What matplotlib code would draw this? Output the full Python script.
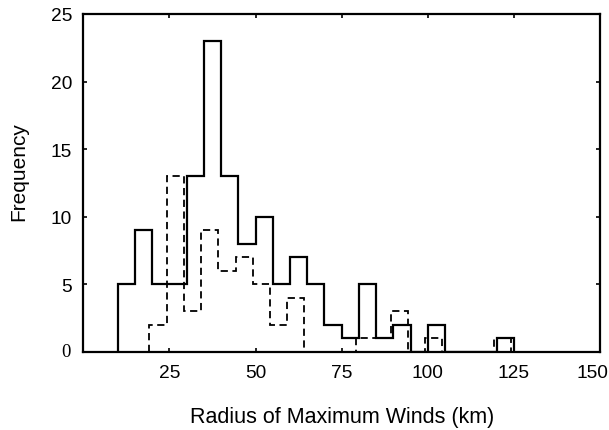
import numpy as np
import matplotlib
matplotlib.use("Agg")
import matplotlib.pyplot as plt
from matplotlib.transforms import ScaledTranslation

# Histogram data (bin width 5 km)
solid_start = 10
solid_counts = [5, 9, 5, 5, 13, 23, 13, 8, 10, 5, 7, 5, 2, 1, 5, 1, 2, 0, 2, 0, 0, 0, 1]
dashed_start = 20
dashed_counts = [2, 13, 3, 9, 6, 7, 5, 2, 4, 0, 0, 0, 1, 1, 3, 0, 1, 0, 0, 0, 1]
bin_width = 5
x_ticks = [25, 50, 75, 100, 125, 150]
y_ticks = [5, 10, 15, 20, 25]

plt.rcParams['font.family'] = ['Liberation Sans', 'DejaVu Sans']

fig = plt.figure(figsize=(6.09, 4.31), dpi=100)
ax = fig.add_axes([0.1368, 0.1817, 0.8484, 0.7835])

solid_edges = solid_start + bin_width * np.arange(len(solid_counts) + 1)
dashed_edges = dashed_start + bin_width * np.arange(len(dashed_counts) + 1) - 0.8

ax.stairs(solid_counts, solid_edges, color='black', linewidth=1.6, zorder=2)
ax.stairs(dashed_counts, dashed_edges, color='black', linewidth=1.3,
          linestyle=(0, (4, 2.5)), zorder=2)

ax.set_xlim(0, 150)
ax.set_ylim(0, 25)
ax.set_xticks(x_ticks)
ax.set_yticks(y_ticks)
ax.tick_params(direction='in', length=3, width=1.2, labelsize=13.8,
               top=True, right=True)
ax.tick_params(axis='x', pad=9)
ax.tick_params(axis='y', pad=8)
for s in ax.spines.values():
    s.set_linewidth(1.6)
    s.set_zorder(3)

# serif zero at the origin, as in the original
ax.text(-0.0335, 0, '0', transform=ax.get_yaxis_transform(),
        ha='center', va='center', fontsize=13.5,
        family=['Liberation Serif', 'DejaVu Serif'])

# last x label sits slightly left of its tick in the original
xlabels = ax.get_xticklabels()
xlabels[-1].set_transform(xlabels[-1].get_transform() +
                          ScaledTranslation(-8 / 100, 0, fig.dpi_scale_trans))

ax.set_xlabel('Radius of Maximum Winds (km)', fontsize=15.5)
ax.set_ylabel('Frequency', fontsize=15)
ax.xaxis.set_label_coords(0.5, -0.162)
ax.yaxis.set_label_coords(-0.107, 0.535)

fig.savefig('out.png', dpi=100)
